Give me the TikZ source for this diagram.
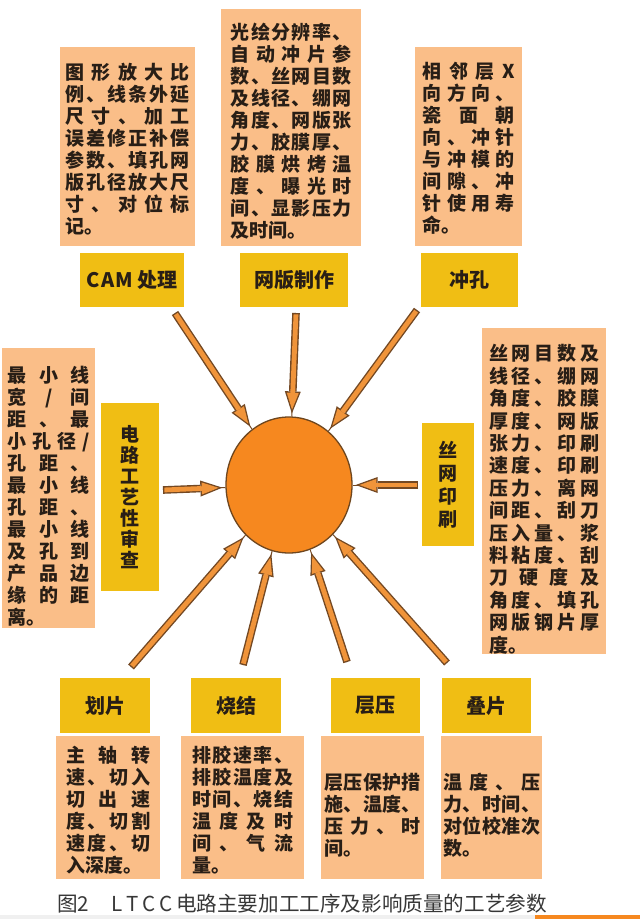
\documentclass[tikz,border=0pt]{standalone}
\usepackage{fontspec}
\usepackage{xcolor}
\setmainfont{Noto Sans CJK SC}
\usetikzlibrary{arrows.meta, shapes.geometric}

% glue between CJK characters, so that justified lines spread out
\newcount\cjkcode
\cjkcode="4E00
\loop
  \XeTeXcharclass\cjkcode=10
  \advance\cjkcode by 1
\ifnum\cjkcode<"A000 \repeat
\XeTeXcharclass"3001=10
\XeTeXcharclass"3002=10
\XeTeXinterchartokenstate=1
\XeTeXinterchartoks 10 10 = {\hskip 0pt plus 20pt\relax}
\XeTeXinterchartoks 10 0 = {\hskip 0pt plus 20pt\relax}
\XeTeXinterchartoks 0 10 = {\hskip 0pt plus 20pt\relax}
\tolerance=10000
\hbadness=10000
\setlength{\parindent}{0pt}

\definecolor{notepeach}{RGB}{250,190,136}
\definecolor{stagegold}{RGB}{240,190,20}
\definecolor{coreorange}{RGB}{246,136,31}
\definecolor{corerim}{RGB}{110,70,30}
\definecolor{feedorange}{RGB}{240,148,58}
\definecolor{feedbrown}{RGB}{115,72,35}
\definecolor{inktext}{RGB}{40,30,22}
\definecolor{captiongray}{RGB}{55,55,55}

\newcommand{\notefont}{\fontsize{19}{22}\selectfont\bfseries}
\newcommand{\stagefont}{\fontsize{20}{22}\selectfont\bfseries}
\newcommand{\captionfont}{\fontsize{20.6}{22}\selectfont\XeTeXinterchartokenstate=0 }
\newcommand{\firstline}[1]{\rule{0pt}{#1pt}}

\begin{document}
\begin{tikzpicture}[x=1pt, y=-1pt,
    notebox/.style={fill=notepeach, anchor=north west, inner sep=0pt, align=justify, text=inktext, font=\notefont},
    stagebox/.style={fill=stagegold, anchor=north west, inner sep=0pt, align=center, text=inktext, font=\stagefont},
    feedline/.style={draw=feedbrown, line width=1pt},
    feedrim/.style={draw=feedbrown, line width=7.6pt, shorten >=3pt, -{Triangle[length=22pt, width=16pt, line width=0pt]}},
    feedfill/.style={draw=feedorange, line width=4.8pt, shorten >=6.8pt, shorten <=1.4pt, -{Triangle[length=16.8pt, width=12pt, line width=0pt]}}]
\useasboundingbox[fill=white] (0,0) rectangle (640,919);

% parameter notes
\node[notebox, minimum width=135, minimum height=199, text width=124] (camnote) at (60,47) {\firstline{21.4}%
图形放大比\linebreak
例、线条外延\linebreak
尺寸、加工\linebreak
误差修正补偿\linebreak
参数、填孔网\linebreak
版孔径放大尺\linebreak
寸、对位标\linebreak
记。};
\node[notebox, minimum width=140, minimum height=237, text width=121] (meshnote) at (221,9) {\firstline{23.4}%
光绘分辨率、\linebreak
自动冲片参\linebreak
数、丝网目数\linebreak
及线径、绷网\linebreak
角度、网版张\linebreak
力、胶膜厚、\linebreak
胶膜烘烤温\linebreak
度、曝光时\linebreak
间、显影压力\linebreak
及时间。};
\node[notebox, minimum width=107, minimum height=199, text width=92] (punchnote) at (415,47) {\firstline{19.4}%
相邻层X\linebreak
向方向、\linebreak
瓷面朝\linebreak
向、冲针\linebreak
与冲模的\linebreak
间隙、冲\linebreak
针使用寿\linebreak
命。};
\node[notebox, minimum width=93, minimum height=280, text width=82] (reviewnote) at (2,348) {\firstline{32.4}%
最小线\linebreak
宽/间\linebreak
距、最\linebreak
小孔径/\linebreak
孔距、\linebreak
最小线\linebreak
孔距、\linebreak
最小线\linebreak
及孔到\linebreak
产品边\linebreak
缘的距\linebreak
离。};
\node[notebox, minimum width=124, minimum height=325, text width=110, font=\fontsize{19}{22.4}\selectfont\bfseries] (printnote) at (482,328) {\firstline{32.6}%
丝网目数及\linebreak
线径、绷网\linebreak
角度、胶膜\linebreak
厚度、网版\linebreak
张力、印刷\linebreak
速度、印刷\linebreak
压力、离网\linebreak
间距、刮刀\linebreak
压入量、浆\linebreak
料粘度、刮\linebreak
刀硬度及\linebreak
角度、填孔\linebreak
网版钢片厚\linebreak
度。};
\node[notebox, minimum width=104, minimum height=143, text width=84] (dicenote) at (56,736) {\firstline{21.4}%
主轴转\linebreak
速、切入\linebreak
切出速\linebreak
度、切割\linebreak
速度、切\linebreak
入深度。};
\node[notebox, minimum width=123, minimum height=143, text width=101] (firenote) at (181,736) {\firstline{21.4}%
排胶速率、\linebreak
排胶温度及\linebreak
时间、烧结\linebreak
温度及时\linebreak
间、气流\linebreak
量。};
\node[notebox, minimum width=103, minimum height=143, text width=96] (lamnote) at (321,736) {\firstline{31.4}%
层压保护措\linebreak
施、温度、\linebreak
压力、时\linebreak
间。};
\node[notebox, minimum width=101, minimum height=143, text width=97] (stacknote) at (441,736) {\firstline{31.4}%
温度、压\linebreak
力、时间、\linebreak
对位校准次\linebreak
数。};

% process stages
\node[stagebox, minimum width=104, minimum height=54] (cam) at (80,253) {C\kern1pt A\kern1pt M 处理};
\node[stagebox, minimum width=108, minimum height=54] (mesh) at (240,253) {网版制作};
\node[stagebox, minimum width=97, minimum height=54] (punch) at (421,253) {冲孔};
\node[stagebox, minimum width=58, minimum height=188, font=\fontsize{19}{21}\selectfont\bfseries] (review) at (101,403) {电\\路\\工\\艺\\性\\审\\查};
\node[stagebox, minimum width=52, minimum height=123, font=\fontsize{19}{23}\selectfont\bfseries] (print) at (422,423) {丝\\网\\印\\刷};
\node[stagebox, minimum width=90, minimum height=55] (dice) at (60,678) {划片};
\node[stagebox, minimum width=90, minimum height=55] (fire) at (191,678) {烧结};
\node[stagebox, minimum width=89, minimum height=55] (lam) at (331,678) {层压};
\node[stagebox, minimum width=89, minimum height=55] (stack) at (442,678) {叠片};

% centre
\node[ellipse, draw=corerim, line width=1.3pt, fill=coreorange, minimum width=126, minimum height=136, inner sep=0pt] (core) at (289,485) {};

% arrow tails
\coordinate (camtail) at (175,313);
\coordinate (meshtail) at (296,313);
\coordinate (punchtail) at (417,310);
\coordinate (reviewtail) at (163,490);
\coordinate (printtail) at (418,485);
\coordinate (dicetail) at (131,667);
\coordinate (firetail) at (243,665);
\coordinate (lamtail) at (347,662);
\coordinate (stacktail) at (447,663);

\foreach \src in {camtail, meshtail, punchtail, reviewtail, printtail, dicetail, firetail, lamtail, stacktail} {
  \draw[feedline] (\src) -- (core);
  \draw[feedrim] (\src) -- (core);
  \draw[feedfill] (\src) -- (core);
}

% caption
\node[anchor=base west, inner sep=0pt, text=captiongray, font=\captionfont] (caption) at (57,911) {图2\hspace{22pt}L\kern4pt T\kern4pt C\kern4pt C\kern3pt 电路主要加工工序及影响质量的工艺参数};
\fill[gray!12] (0,915) rectangle (640,919);
\fill[coreorange] (535,915) rectangle (640,919);
\end{tikzpicture}
\end{document}
